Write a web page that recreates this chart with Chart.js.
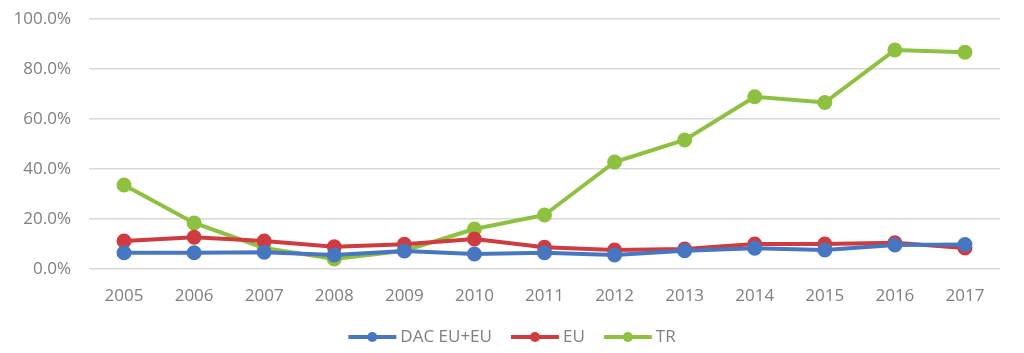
<!DOCTYPE html>
<html>
<head>
<meta charset="utf-8">
<script src="https://cdn.jsdelivr.net/npm/chart.js@4"></script>
<style>
  html, body { margin: 0; padding: 0; background: #fff; }
  #wrap { width: 1024px; height: 353px; }
</style>
</head>
<body>
<div id="wrap"><canvas id="lineChart" width="1024" height="353"></canvas></div>
<script>
const years = ['2005','2006','2007','2008','2009','2010','2011','2012','2013','2014','2015','2016','2017'];
const dacEuEu = [6.5, 6.5, 6.7, 5.6, 7.2, 6.0, 6.5, 5.6, 7.3, 8.3, 7.6, 9.6, 9.8];
const eu      = [11.2, 12.7, 11.2, 8.9, 9.9, 12.0, 8.7, 7.6, 8.0, 10.0, 10.0, 10.5, 8.4];
const tr      = [33.6, 18.4, 8.4, 4.0, 7.3, 16.0, 21.6, 42.8, 51.6, 68.9, 66.6, 87.6, 86.7];

const labelFont = { family: 'Open Sans', size: 17 };
const gray = '#7f7f7f';

function series(label, data, color) {
    return {
        label: label,
        data: data,
        borderColor: color,
        backgroundColor: color,
        borderWidth: 4,
        pointRadius: 5.5,
        pointHoverRadius: 5.5,
        fill: false,
        tension: 0
    };
}

// legend drawn as line + dot like the original
const bottomLegend = {
    id: 'bottomLegend',
    afterDraw(chart) {
        const ctx = chart.ctx;
        const y = 337;
        const lineLen = 48, gapText = 4, gapItem = 19;
        ctx.save();
        ctx.font = `${labelFont.size}px ${labelFont.family}`;
        const items = chart.data.datasets.map(ds => ({
            text: ds.label, color: ds.borderColor, w: ctx.measureText(ds.label).width
        }));
        let total = items.reduce((s, it) => s + lineLen + gapText + it.w, 0) + gapItem * (items.length - 1);
        let x = chart.width / 2 - total / 2;
        items.forEach(it => {
            ctx.strokeStyle = it.color;
            ctx.lineWidth = 4;
            ctx.beginPath();
            ctx.moveTo(x, y);
            ctx.lineTo(x + lineLen, y);
            ctx.stroke();
            ctx.fillStyle = it.color;
            ctx.beginPath();
            ctx.arc(x + lineLen / 2, y, 5, 0, Math.PI * 2);
            ctx.fill();
            ctx.fillStyle = gray;
            ctx.textBaseline = 'middle';
            ctx.textAlign = 'left';
            ctx.fillText(it.text, x + lineLen + gapText, y);
            x += lineLen + gapText + it.w + gapItem;
        });
        ctx.restore();
    }
};

new Chart(document.getElementById('lineChart'), {
    type: 'line',
    data: {
        labels: years,
        datasets: [
            series('DAC EU+EU', dacEuEu, '#4677c0'),
            series('EU', eu, '#d03b3f'),
            series('TR', tr, '#8dc13f')
        ]
    },
    options: {
        responsive: false,
        animation: false,
        layout: { padding: { top: 19, right: 24, bottom: 40, left: 0 } },
        plugins: { legend: { display: false }, tooltip: { enabled: false } },
        scales: {
            x: {
                offset: true,
                afterFit: s => { s.height = 44; s.paddingLeft = 0; s.paddingRight = 0; },
                grid: { display: false, drawTicks: false },
                border: { display: false },
                ticks: { color: gray, font: labelFont, padding: 17, maxRotation: 0 }
            },
            y: {
                min: 0,
                max: 100,
                afterFit: s => { s.width = 89; s.paddingTop = 0; s.paddingBottom = 0; },
                grid: { color: '#d9d9d9', lineWidth: 1.5, drawTicks: false },
                border: { display: false },
                ticks: {
                    stepSize: 20,
                    color: gray,
                    font: labelFont,
                    padding: 18,
                    callback: v => v.toFixed(1) + '%'
                }
            }
        }
    },
    plugins: [bottomLegend]
});
</script>
</body>
</html>
